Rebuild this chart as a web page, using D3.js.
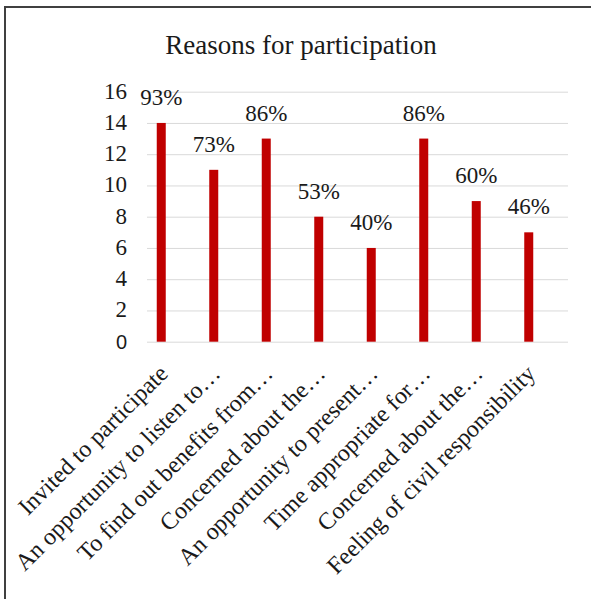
<!DOCTYPE html>
<html>
<head>
<meta charset="utf-8">
<script src="https://cdn.jsdelivr.net/npm/d3@7"></script>
<style>
  body { margin: 0; background: #fff; }
</style>
</head>
<body>
<div id="chart"></div>
<script>
// data
var reasons = ["Invited to participate", "An opportunity to listen to\u2026", "To find out benefits from\u2026",
    "Concerned about the\u2026", "An opportunity to present\u2026", "Time appropriate for\u2026",
    "Concerned about the\u2026", "Feeling of civil responsibility"];
var counts = [14, 11, 13, 8, 6, 13, 9, 7];
var shares = ["93%", "73%", "86%", "53%", "40%", "86%", "60%", "46%"];
var yTicks = [0, 2, 4, 6, 8, 10, 12, 14, 16];

var width = 591, height = 599;
var serif = "'Liberation Serif', 'Times New Roman', serif";

var svg = d3.select("#chart")
    .append("svg")
    .attr("width", width)
    .attr("height", height);

// frame round the chart (runs off the right and bottom edges)
svg.append("rect")
    .attr("x", 5).attr("y", 7)
    .attr("width", 620).attr("height", 620)
    .attr("fill", "none")
    .attr("stroke", "#404040")
    .attr("stroke-width", 2);

// title
svg.append("text")
    .attr("x", 301).attr("y", 54)
    .attr("text-anchor", "middle")
    .attr("font-family", serif)
    .attr("font-size", "27px")
    .attr("fill", "#1a1a1a")
    .text("Reasons for participation");

var x = d3.scaleBand()
    .domain(d3.range(reasons.length))
    .range([135, 555]);

var y = d3.scaleLinear()
    .domain([0, 16])
    .range([341.7, 91.7]);

// gridlines, drawn with an axis
var grid = svg.append("g")
    .attr("transform", "translate(147,0)")
    .call(d3.axisLeft(y).tickValues(yTicks).tickSize(-421).tickFormat(""));
grid.select(".domain").remove();
grid.selectAll(".tick line").attr("stroke", "#d9d9d9").attr("stroke-width", 1);

// y tick labels
svg.selectAll(".ylab")
    .data(yTicks)
    .enter()
    .append("text")
    .attr("class", "ylab")
    .attr("x", 127)
    .attr("y", function (d) { return y(d) + 7; })
    .attr("text-anchor", "end")
    .attr("font-family", function (d) { return d === 0 ? "'Liberation Sans', Arial, sans-serif" : serif; })
    .attr("font-size", function (d) { return d === 0 ? "20px" : "23px"; })
    .attr("fill", "#1a1a1a")
    .text(function (d) { return d; });

// bars
var barW = 9;
svg.selectAll(".bar")
    .data(counts)
    .enter()
    .append("rect")
    .attr("class", "bar")
    .attr("x", function (d, i) { return x(i) + x.bandwidth() / 2 - barW / 2; })
    .attr("y", function (d) { return y(d); })
    .attr("width", barW)
    .attr("height", function (d) { return y(0) - y(d); })
    .attr("fill", "#c00000");

// percentage labels above the bars
svg.selectAll(".pct")
    .data(counts)
    .enter()
    .append("text")
    .attr("class", "pct")
    .attr("x", function (d, i) { return x(i) + x.bandwidth() / 2; })
    .attr("y", function (d) { return y(d) - 18; })
    .attr("text-anchor", "middle")
    .attr("font-family", serif)
    .attr("font-size", "23px")
    .attr("fill", "#1a1a1a")
    .text(function (d, i) { return shares[i]; });

// rotated category labels
svg.selectAll(".xlab")
    .data(reasons)
    .enter()
    .append("text")
    .attr("class", "xlab")
    .attr("transform", function (d, i) {
        return "translate(" + (x(i) + x.bandwidth() / 2 + 8) + ",375) rotate(-45)";
    })
    .attr("text-anchor", "end")
    .attr("font-family", serif)
    .attr("font-size", "24px")
    .attr("fill", "#1a1a1a")
    .text(function (d) { return d; });
</script>
</body>
</html>
